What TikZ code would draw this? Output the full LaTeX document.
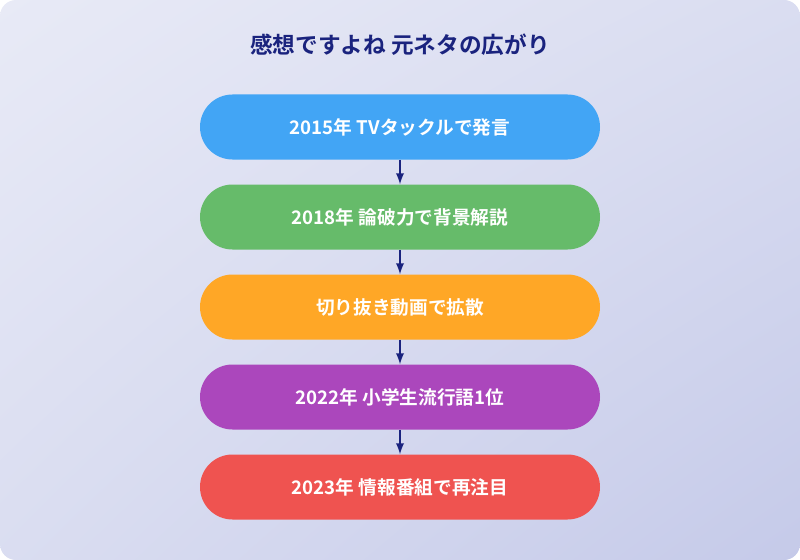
\documentclass[tikz,border=0pt]{standalone}
\usepackage{fontspec}
\setmainfont{Noto Sans CJK JP}[BoldFont={* Bold}]
\usetikzlibrary{positioning,shadings}
\definecolor{navy}{HTML}{1A237E}
\definecolor{bgA}{HTML}{E8EAF6}
\definecolor{bgB}{HTML}{C5CAE9}
\definecolor{cBlue}{HTML}{42A5F5}
\definecolor{cGreen}{HTML}{66BB6A}
\definecolor{cOrange}{HTML}{FFA726}
\definecolor{cPurple}{HTML}{AB47BC}
\definecolor{cRed}{HTML}{EF5350}
\tikzset{
  stage/.style={fill=#1, rounded corners=32.5*0.75pt, minimum width=400*0.75pt,
    minimum height=65*0.75pt, text=white, font=\bfseries\fontsize{14}{16}\selectfont},
  link/.style={-latex, navy, line width=1.8pt}
}
\begin{document}
\begin{tikzpicture}[x=0.75pt,y=-0.75pt]
\useasboundingbox (0,0) rectangle (800,560);
\shade[upper left=bgA, lower right=bgB, upper right=bgA!60!bgB, lower left=bgA!60!bgB, rounded corners=12pt] (0,0) rectangle (800,560);
\node[navy, font=\bfseries\fontsize{17}{20}\selectfont] (title) at (400,45) {感想ですよね 元ネタの広がり};
\node[stage=cBlue]   (s1) at (400,127) {2015年 TVタックルで発言};
\node[stage=cGreen]  (s2) at (400,217) {2018年 論破力で背景解説};
\node[stage=cOrange] (s3) at (400,307) {切り抜き動画で拡散};
\node[stage=cPurple] (s4) at (400,397) {2022年 小学生流行語1位};
\node[stage=cRed]    (s5) at (400,487) {2023年 情報番組で再注目};
\foreach \a/\b in {s1/s2,s2/s3,s3/s4,s4/s5}
  \draw[link] (\a) -- (\b);
\end{tikzpicture}
\end{document}
